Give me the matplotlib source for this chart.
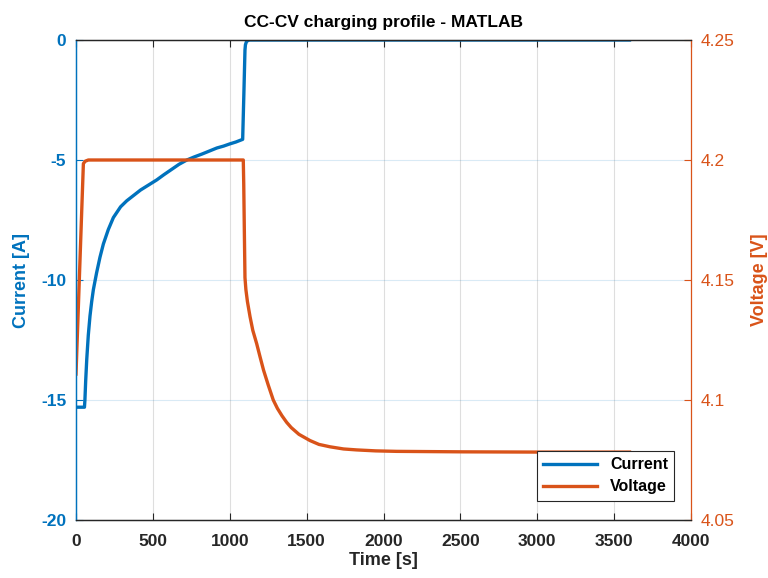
import matplotlib
matplotlib.use("Agg")
import matplotlib.pyplot as plt

plt.rcParams['font.family'] = ['Liberation Sans', 'DejaVu Sans']
plt.rcParams['axes.unicode_minus'] = False

# Current data
t_cur = [0, 55, 58, 63, 70, 80, 91, 102, 113, 134, 156, 178, 210, 243, 290, 330, 380, 420, 470,
         525, 570, 620, 670, 721, 770, 820, 870, 916, 960, 1000, 1040, 1084,
         1092, 1099, 1102, 1108, 1118, 1130, 1200, 2000, 3000, 3600]
i_cur = [-15.3, -15.3, -15.0, -14.2, -13.3, -12.3, -11.5, -10.9, -10.4, -9.7, -9.05, -8.5, -7.9,
         -7.4, -6.95, -6.7, -6.45, -6.25, -6.05, -5.83, -5.62, -5.4, -5.18, -5.0, -4.87, -4.75,
         -4.62, -4.5, -4.42, -4.33, -4.25, -4.14,
         -2.2, -0.42, -0.2, -0.08, -0.02, 0.0, 0.0, 0.0, 0.0, 0.0]

# Voltage data
t_volt = [0, 48, 60, 80, 200, 1088, 1091, 1095, 1099, 1105, 1115, 1132, 1150, 1175, 1197, 1220,
          1250, 1283, 1310, 1340, 1370, 1400, 1450, 1522, 1580, 1652, 1740, 1826, 1950, 2086,
          2300, 2519, 3000, 3600]
v_volt = [4.1108, 4.1985, 4.1995, 4.2, 4.2, 4.2, 4.19, 4.17, 4.151, 4.146, 4.141, 4.1347, 4.129,
          4.1235, 4.118, 4.1124, 4.1063, 4.1, 4.0965, 4.0934, 4.0907, 4.0885, 4.0857, 4.0831,
          4.0815, 4.0805, 4.0796, 4.0792, 4.0788, 4.0786, 4.0785, 4.0784, 4.0783, 4.0783]

x_ticks = [0, 500, 1000, 1500, 2000, 2500, 3000, 3500, 4000]
i_ticks = [-20, -15, -10, -5, 0]
v_ticks = [4.05, 4.1, 4.15, 4.2, 4.25]
v_ticklabels = ['4.05', '4.1', '4.15', '4.2', '4.25']

BLUE = '#0072BD'
ORANGE = '#D95319'
DARK = '#262626'

fig = plt.figure(figsize=(7.68, 5.78), dpi=100)
ax = fig.add_axes([76/768, 1-520/578, 615/768, 480/578])
ax2 = ax.twinx()

ln1, = ax.plot(t_cur, i_cur, color=BLUE, lw=2.4, label='Current', solid_joinstyle='round')
ln2, = ax2.plot(t_volt, v_volt, color=ORANGE, lw=2.4, label='Voltage', solid_joinstyle='round')

ax.set_xlim(0, 4000)
ax.set_ylim(-20, 0)
ax2.set_ylim(4.05, 4.25)
ax.set_xticks(x_ticks)
ax.set_yticks(i_ticks)
ax2.set_yticks(v_ticks)
ax2.set_yticklabels(v_ticklabels)

# grids
for x in x_ticks[1:-1]:
    ax.axvline(x, color=DARK, alpha=0.15, lw=0.8, zorder=0)
for y in i_ticks[1:-1]:
    ax.axhline(y, color=BLUE, alpha=0.15, lw=0.8, zorder=0)

for a in (ax, ax2):
    a.tick_params(direction='in', length=5, width=0.8, labelsize=12.5)
ax.tick_params(axis='x', top=True, colors=DARK, pad=10)
ax.tick_params(axis='y', colors=BLUE, pad=7)
ax2.tick_params(axis='y', colors=ORANGE, pad=7)
for lab in ax.get_xticklabels() + ax.get_yticklabels():
    lab.set_fontweight('bold')
for lab in ax2.get_yticklabels():
    lab.set_fontweight('normal')

ax.spines['top'].set_color(DARK)
ax.spines['bottom'].set_color(DARK)
ax2.spines['top'].set_color(DARK)
ax2.spines['bottom'].set_color(DARK)
ax.spines['left'].set_color(BLUE)
ax2.spines['left'].set_color(BLUE)
ax2.spines['right'].set_color(ORANGE)
ax.spines['right'].set_visible(False)
for s in list(ax.spines.values()) + list(ax2.spines.values()):
    s.set_linewidth(0.9)

ax.set_xlabel('Time [s]', fontsize=13, fontweight='bold', color=DARK, labelpad=2)
ax.set_ylabel('Current [A]', fontsize=13, fontweight='bold', color=BLUE, labelpad=8)
ax2.set_ylabel('Voltage [V]', fontsize=13, fontweight='bold', color=ORANGE, labelpad=12)
ax.set_title('CC-CV charging profile - MATLAB', fontsize=12.5, fontweight='bold', color='black', pad=9)

leg = ax2.legend([ln1, ln2], ['Current', 'Voltage'], loc='lower right',
                 bbox_to_anchor=(0.973, 0.04), borderaxespad=0, fancybox=False,
                 edgecolor=DARK, framealpha=1, prop={'weight': 'bold', 'size': 11.5},
                 handlelength=3.4, borderpad=0.4, labelspacing=0.45, handletextpad=0.8)
leg.get_frame().set_linewidth(0.8)

fig.savefig('out.png', dpi=100)
